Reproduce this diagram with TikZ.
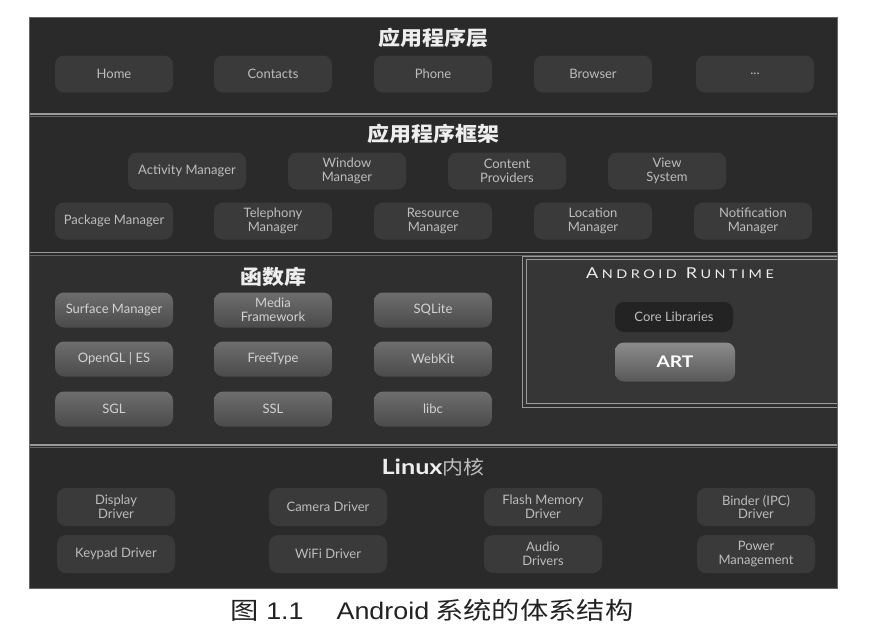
\documentclass[tikz,border=0pt]{standalone}
\usepackage{fontspec}
\setmainfont{Lato}
\newfontfamily\lt{Lato}
\newfontfamily\ltwide[FakeStretch=1.2]{Lato}
\newfontfamily\cjktitle[FakeStretch=1.1]{Noto Sans CJK SC}
\newfontfamily\cjkcap[FakeStretch=1.18]{Noto Sans CJK SC}
\newfontfamily\capsans[FakeStretch=1.12]{Liberation Sans}
\newcommand\rtk{\kern3.5pt}
\definecolor{framebg}{HTML}{2A2A2A}
\definecolor{libbg}{HTML}{2F2F2F}
\definecolor{rtbg}{HTML}{363636}
\definecolor{faintbox}{HTML}{3A3A3A}
\definecolor{seplight}{HTML}{9A9A9A}
\definecolor{sepdark}{HTML}{666666}
\definecolor{boxtxt}{HTML}{BDBDBD}
\definecolor{libtxt}{HTML}{D2D2D2}
\definecolor{titletxt}{HTML}{EEEEEE}
\definecolor{libtop}{HTML}{6E6E6E}
\definecolor{libbot}{HTML}{4A4A4A}
\definecolor{arttop}{HTML}{8C8C8C}
\definecolor{artbot}{HTML}{585858}
\definecolor{corebg}{HTML}{232323}
\definecolor{captxt}{HTML}{222222}
\tikzset{
  basebox/.style={rounded corners=9pt, minimum width=118pt, align=center,
     font=\lt\fontsize{13}{13.5}\selectfont, inner sep=1pt},
  faint/.style={basebox, fill=faintbox, text=boxtxt, minimum height=37pt},
  libbox/.style={basebox, top color=libtop, bottom color=libbot, text=libtxt, minimum height=35pt},
  corebox/.style={basebox, fill=corebg, text=boxtxt, minimum height=30pt},
  artbox/.style={basebox, minimum width=120pt, top color=arttop, bottom color=artbot, text=white,
     minimum height=39pt, font=\ltwide\bfseries\fontsize{16}{16}\selectfont},
  layertitle/.style={text=titletxt, font=\cjktitle\bfseries\fontsize{20}{20}\selectfont, inner sep=0pt},
  sepline/.style={line width=1.2pt, seplight},
  sepline2/.style={line width=0.8pt, sepdark},
  rtline/.style={line width=0.7pt, seplight}
}
\begin{document}
\begin{tikzpicture}[x=1pt,y=-1pt]
\useasboundingbox (0,0) rectangle (872,640);
% frame
\fill[framebg] (29,17) rectangle (837,588);
\fill[libbg] (29,255) rectangle (837,445);
\fill[rtbg] (524,257) rectangle (837,405);
% separators
\draw[sepline] (29,114) -- (837,114);
\draw[sepline2] (29,116.5) -- (837,116.5);
\draw[sepline] (29,252.5) -- (837,252.5);
\draw[sepline2] (29,255) -- (837,255);
\draw[sepline] (29,445) -- (837,445);
\draw[sepline2] (29,447.5) -- (837,447.5);
\draw[sepdark, line width=0.6pt] (29,17) rectangle (837,588);
% runtime panel border
\draw[rtline] (837,256) -- (522,256) -- (522,407) -- (837,407);
\draw[rtline] (837,259) -- (526,259) -- (526,403.5) -- (837,403.5);

% layer 1
\node[layertitle] (t1) at (433,38) {应用程序层};
\node[faint] (home) at (114,74) {Home};
\node[faint] (contacts) at (273,74) {Contacts};
\node[faint] (phone) at (433,74) {Phone};
\node[faint] (browser) at (593,74) {Browser};
\node[faint] (more) at (755,74) {...};

% layer 2
\node[layertitle] (t2) at (433,134) {应用程序框架};
\node[faint] (am) at (187,171) {Activity Manager};
\node[faint] (wm) at (347,171) {Window\\Manager};
\node[faint] (cp) at (507,171) {Content\\Providers};
\node[faint] (vs) at (667,171) {View\\System};
\node[faint] (pm) at (114,221) {Package Manager};
\node[faint] (tm) at (273,221) {Telephony\\Manager};
\node[faint] (rm) at (433,221) {Resource\\Manager};
\node[faint] (lm) at (593,221) {Location\\Manager};
\node[faint] (nm) at (753,221) {Notification\\Manager};

% layer 3
\node[layertitle] (t3) at (273,277) {函数库};
\node[libbox] (sm) at (114,310) {Surface Manager};
\node[libbox] (mf) at (273,310) {Media\\Framework};
\node[libbox] (sq) at (433,310) {SQLite};
\node[libbox] (gl) at (114,359) {OpenGL | ES};
\node[libbox] (ft) at (273,359) {FreeType};
\node[libbox] (wk) at (433,359) {WebKit};
\node[libbox] (sgl) at (114,409) {SGL};
\node[libbox] (ssl) at (273,409) {SSL};
\node[libbox] (libc) at (433,409) {libc};

% runtime
\node[text=titletxt, inner sep=0pt] (rt) at (680,273) {\ltwide
  \fontsize{15}{15}\selectfont A\rtk\fontsize{12}{12}\selectfont N\rtk D\rtk R\rtk O\rtk I\rtk D%
  \hspace{9pt}\fontsize{15}{15}\selectfont R\rtk\fontsize{12}{12}\selectfont U\rtk N\rtk T\rtk I\rtk M\rtk E};
\node[corebox] (core) at (674,317) {Core Libraries};
\node[artbox] (art) at (675,362) {ART};

% layer 4
\node[inner sep=0pt] (t4) at (433,467) {{\ltwide\bfseries\fontsize{21}{21}\selectfont\color{titletxt}Linux}{\cjktitle\fontsize{19}{19}\selectfont\color{boxtxt}内核}};
\node[faint, minimum height=38pt] (dd) at (116,507) {Display\\Driver};
\node[faint, minimum height=38pt] (cd) at (328,507) {Camera Driver};
\node[faint, minimum height=38pt] (fd) at (543,507) {Flash Memory\\Driver};
\node[faint, minimum height=38pt] (bd) at (756,507) {Binder (IPC)\\Driver};
\node[faint, minimum height=38pt] (kd) at (116,554) {Keypad Driver};
\node[faint, minimum height=38pt] (wd) at (328,554) {WiFi Driver};
\node[faint, minimum height=38pt] (ad) at (543,554) {Audio\\Drivers};
\node[faint, minimum height=38pt] (pw) at (756,554) {Power\\Management};

% caption
\node[text=captxt, inner sep=0pt] (cap) at (432,610) {{\cjkcap\fontsize{24}{24}\selectfont 图}{\capsans\fontsize{24}{24}\selectfont\ 1.1\hspace{33pt}Android\hspace{6pt}}{\cjkcap\fontsize{24}{24}\selectfont 系统的体系结构}};
\end{tikzpicture}
\end{document}
